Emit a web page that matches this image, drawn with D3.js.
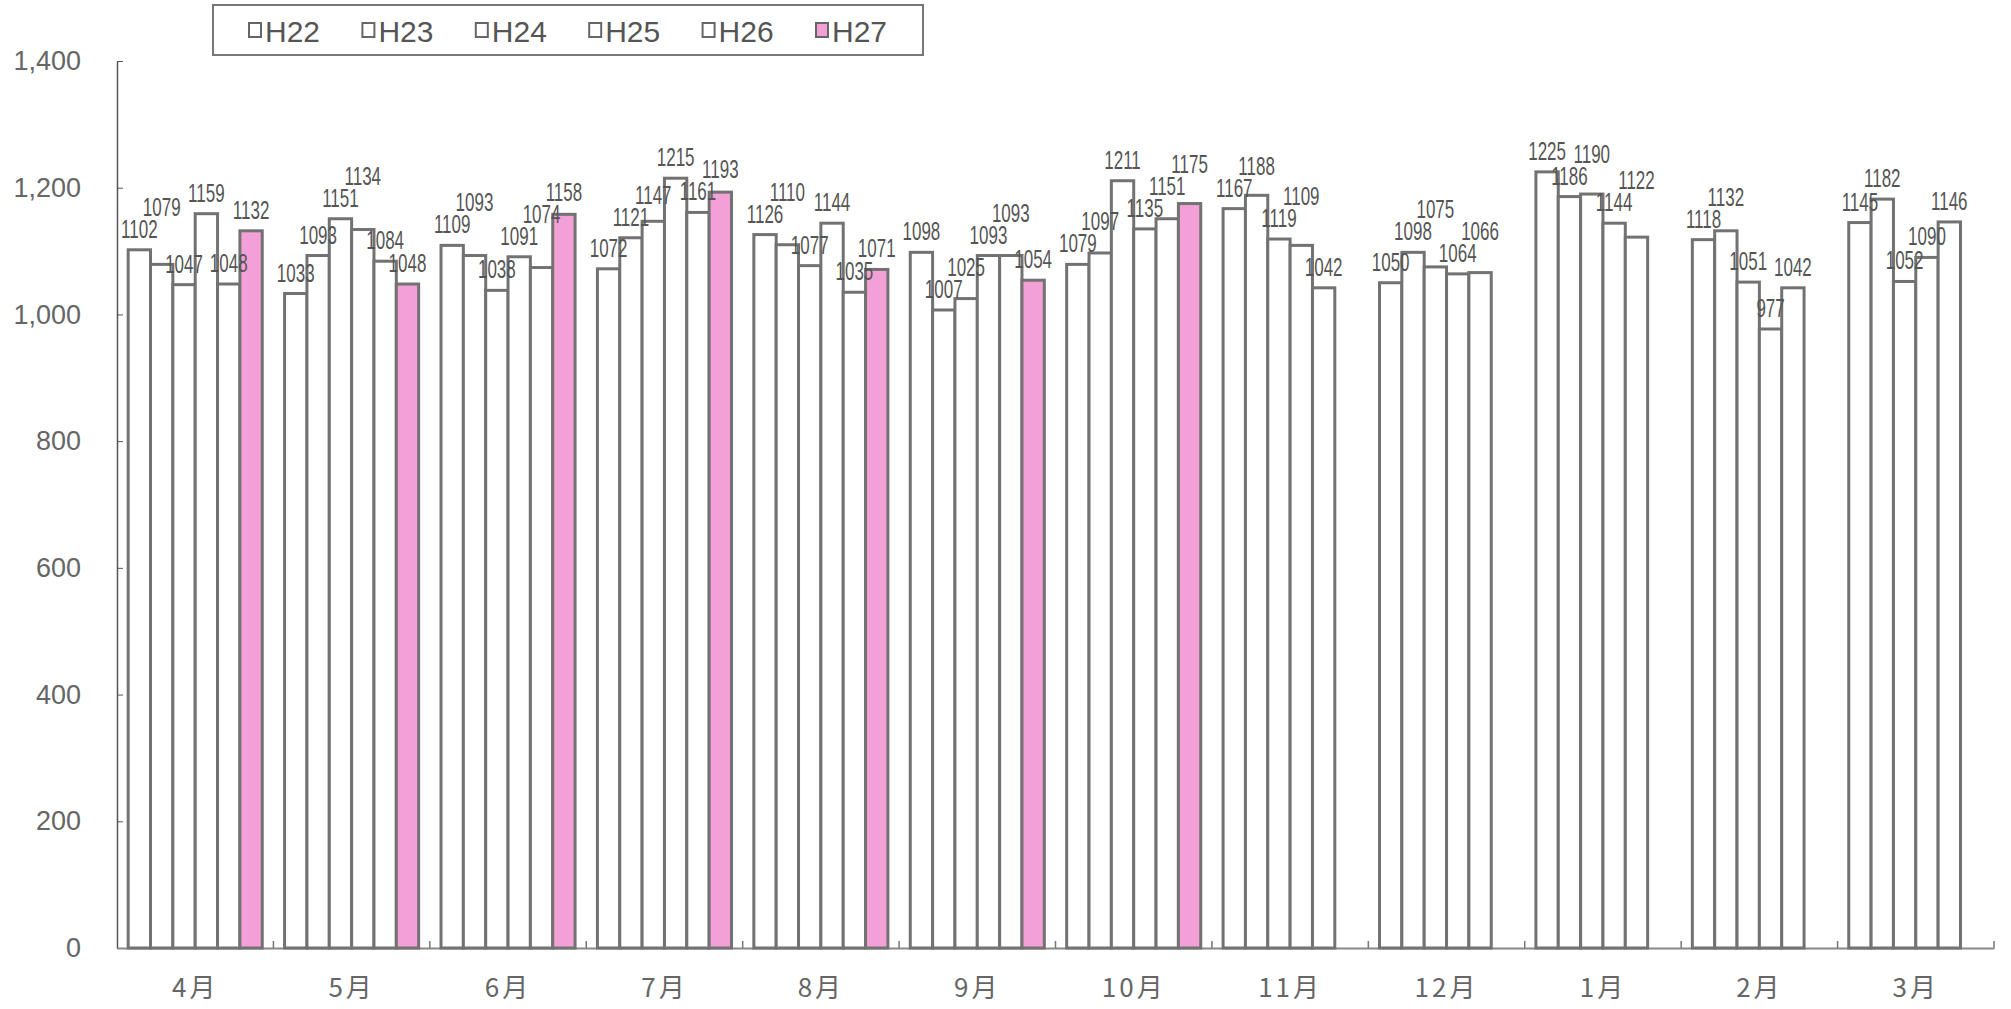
<!DOCTYPE html>
<html>
<head>
<meta charset="utf-8">
<script src="https://cdn.jsdelivr.net/npm/d3@7"></script>
<style>
  body { margin: 0; background: #fff; }
  svg { display: block; }
  .y-axis text { font-family: "Liberation Sans", Arial, sans-serif; font-size: 27px; fill: #666; }
  .x-axis text { font-family: "Noto Sans CJK JP", sans-serif; font-size: 26px; fill: #666; letter-spacing: 3px; }
  .label { font-family: "Liberation Sans", Arial, sans-serif; font-size: 25px; fill: #555; text-anchor: middle; }
  .legend text { font-family: "Liberation Sans", Arial, sans-serif; font-size: 30px; fill: #555; }
</style>
</head>
<body>
<svg width="2011" height="1009"></svg>
<script>
// months on the x axis, fiscal years as series
const months = ['4月', '5月', '6月', '7月', '8月', '9月', '10月', '11月', '12月', '1月', '2月', '3月'];
const series = ['H22', 'H23', 'H24', 'H25', 'H26', 'H27'];

const h22 = [1102, 1033, 1109, 1072, 1126, 1098, 1079, 1167, 1050, 1225, 1118, 1145];
const h23 = [1079, 1093, 1093, 1121, 1110, 1007, 1097, 1188, 1098, 1186, 1132, 1182];
const h24 = [1047, 1151, 1038, 1147, 1077, 1025, 1211, 1119, 1075, 1190, 1051, 1052];
const h25 = [1159, 1134, 1091, 1215, 1144, 1093, 1135, 1109, 1064, 1144, 977, 1090];
const h26 = [1048, 1084, 1074, 1161, 1035, 1093, 1151, 1042, 1066, 1122, 1042, 1146];
const h27 = [1132, 1048, 1158, 1193, 1071, 1054, 1175, null, null, null, null, null];

const yTicks = [0, 200, 400, 600, 800, 1000, 1200, 1400];

const values = [h22, h23, h24, h25, h26, h27];

// one row per bar
const data = [];
months.forEach((m, i) => {
  series.forEach((s, j) => {
    if (values[j][i] != null) data.push({ month: m, year: s, value: values[j][i] });
  });
});

const svg = d3.select('svg');

const plotLeft = 117, plotRight = 1994, plotTop = 61, plotBottom = 948;

const scaleX = d3.scaleBand()
  .domain(months)
  .range([plotLeft, plotRight]);

const bw = scaleX.bandwidth();

const scaleInner = d3.scaleBand()
  .domain(series)
  .range([bw / 14, bw - bw / 14]);

const scaleY = d3.scaleLinear()
  .domain([0, 1400])
  .range([plotBottom, plotTop]);

const color = d => d === 'H27' ? '#f3a0d6' : '#fff';

// Y axis, ticks pointing inward
const axisY = d3.axisLeft(scaleY)
  .tickValues(yTicks)
  .tickFormat(d3.format(','))
  .tickSizeInner(-6)
  .tickSizeOuter(0)
  .tickPadding(36);

svg.append('g')
  .attr('class', 'y-axis')
  .attr('transform', `translate(${plotLeft}, 0)`)
  .call(axisY)
  .call(g => g.select('.domain').attr('stroke', '#555').attr('stroke-width', 1.5))
  .call(g => g.selectAll('.tick line').attr('stroke', '#555'));

// X axis with month names
const axisX = d3.axisBottom(scaleX)
  .tickSize(0)
  .tickPadding(31);

svg.append('g')
  .attr('class', 'x-axis')
  .attr('transform', `translate(0, ${plotBottom})`)
  .call(axisX)
  .call(g => g.select('.domain').attr('stroke', '#888').attr('stroke-width', 2));

// separator ticks between months
svg.append('g')
  .selectAll('line')
  .data(months.slice(1).concat(['end']))
  .join('line')
  .attr('x1', d => d === 'end' ? plotRight : scaleX(d))
  .attr('x2', d => d === 'end' ? plotRight : scaleX(d))
  .attr('y1', plotBottom)
  .attr('y2', plotBottom - 7)
  .attr('stroke', '#777')
  .attr('stroke-width', 1.5);

// bars
svg.append('g')
  .selectAll('rect')
  .data(data)
  .join('rect')
  .attr('x', d => scaleX(d.month) + scaleInner(d.year))
  .attr('y', d => scaleY(d.value))
  .attr('width', scaleInner.bandwidth())
  .attr('height', d => plotBottom - scaleY(d.value))
  .attr('fill', d => color(d.year))
  .attr('stroke', '#727272')
  .attr('stroke-width', 3);

// value labels, stacked upward when neighbours would collide
const lh = 22;
const labels = [];
months.forEach(m => {
  let prev = null;
  data.filter(d => d.month === m).forEach(d => {
    let y = scaleY(d.value) - 12;
    if (prev !== null && Math.abs(y - prev) < lh) y = prev - lh;
    labels.push({ ...d, ly: y });
    prev = y;
  });
});

// condensed digits, like the narrow font of the original
svg.append('g')
  .selectAll('text')
  .data(labels)
  .join('text')
  .attr('class', 'label')
  .attr('transform', d => {
    const x = scaleX(d.month) + scaleInner(d.year) + scaleInner.bandwidth() / 2;
    return `translate(${x}, ${d.ly}) scale(0.68, 1)`;
  })
  .text(d => d.value);

// legend
const legend = svg.append('g').attr('class', 'legend');

legend.append('rect')
  .attr('x', 213)
  .attr('y', 5)
  .attr('width', 710)
  .attr('height', 50)
  .attr('fill', '#fff')
  .attr('stroke', '#777')
  .attr('stroke-width', 2);

const items = legend.selectAll('g.item')
  .data(series)
  .join('g')
  .attr('class', 'item')
  .attr('transform', (d, i) => `translate(${249 + i * 113.4}, 0)`);

items.append('rect')
  .attr('x', 0)
  .attr('y', 23)
  .attr('width', 12)
  .attr('height', 14)
  .attr('fill', d => color(d))
  .attr('stroke', '#666')
  .attr('stroke-width', 2);

items.append('text')
  .attr('x', 16)
  .attr('y', 42)
  .text(d => d);
</script>
</body>
</html>
